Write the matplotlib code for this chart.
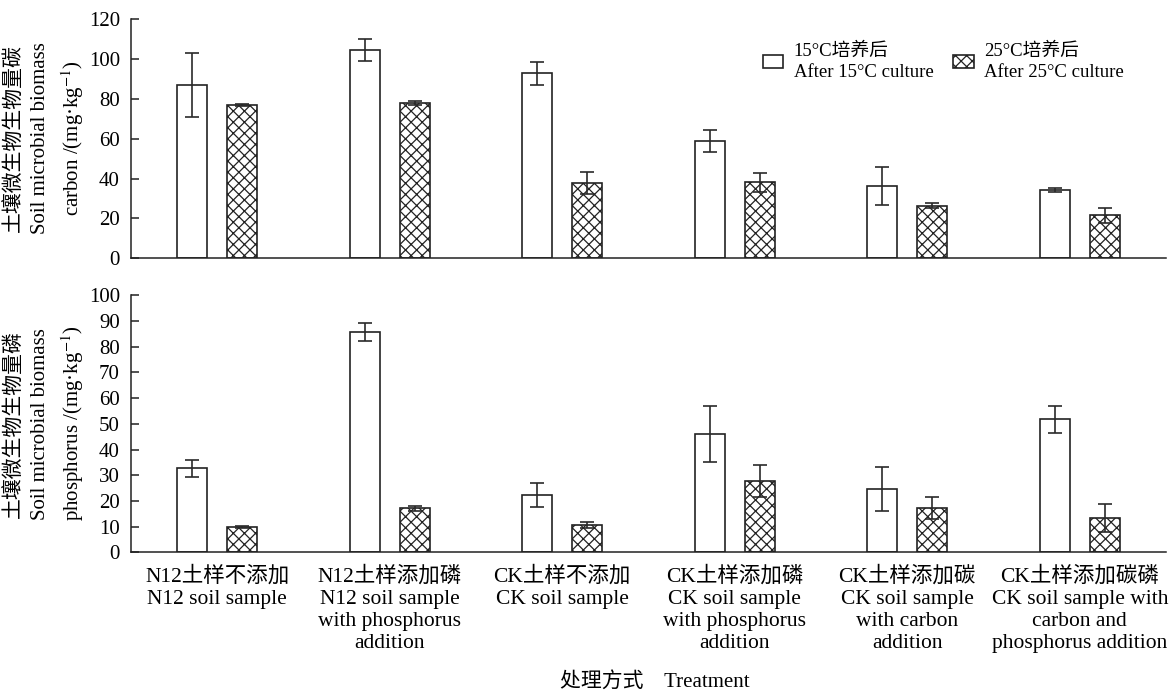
import matplotlib
matplotlib.use('Agg')
import matplotlib.pyplot as plt
import numpy as np

plt.rcParams['font.family'] = ['Liberation Serif', 'Noto Sans CJK SC']
plt.rcParams['mathtext.fontset'] = 'stix'
plt.rcParams['hatch.color'] = '#4a4a4a'
plt.rcParams['hatch.linewidth'] = 0.9

# treatments on the x axis
treatments = ['N12土样不添加\nN12 soil sample',
              'N12土样添加磷\nN12 soil sample\nwith phosphorus\naddition',
              'CK土样不添加\nCK soil sample',
              'CK土样添加磷\nCK soil sample\nwith phosphorus\naddition',
              'CK土样添加碳\nCK soil sample\nwith carbon\naddition',
              'CK土样添加碳磷\nCK soil sample with\ncarbon and\nphosphorus addition']

# microbial biomass carbon (mg/kg)
mbc_15 = [86.7, 104.2, 92.6, 58.8, 36.3, 34.3]
mbc_15_err = [16.0, 5.5, 5.6, 5.5, 9.4, 1.2]
mbc_25 = [76.6, 77.9, 37.9, 38.1, 26.4, 21.6]
mbc_25_err = [0.5, 1.0, 5.5, 4.8, 1.2, 3.8]

# microbial biomass phosphorus (mg/kg)
mbp_15 = [32.7, 85.5, 22.3, 46.1, 24.7, 51.8]
mbp_15_err = [3.2, 3.5, 4.8, 10.8, 8.4, 5.2]
mbp_25 = [10.0, 17.2, 10.7, 27.8, 17.4, 13.5]
mbp_25_err = [0.3, 1.0, 1.3, 6.2, 4.3, 5.5]

legend_labels = ['15°C培养后\nAfter 15°C culture', '25°C培养后\nAfter 25°C culture']

x = np.arange(len(treatments))
w = 0.174
off = 0.145
edge = '#222222'
fs = 15

fig = plt.figure(figsize=(11.74, 6.96), dpi=100)
ax1 = fig.add_axes([0.1116, 0.6286, 0.8816, 0.3448])
ax2 = fig.add_axes([0.1116, 0.2062, 0.8816, 0.3699])

err_kw = dict(ecolor='#2a2a2a', elinewidth=1.2, capsize=4.7, capthick=1.2)


def draw(ax, v15, e15, v25, e25, ymax, step):
    b1 = ax.bar(x - off, v15, w, yerr=e15, color='white', edgecolor=edge,
                linewidth=1.2, error_kw=err_kw, zorder=2)
    b2 = ax.bar(x + off, v25, w, yerr=e25, color='white', edgecolor=edge,
                linewidth=1.2, hatch='xxx', error_kw=err_kw, zorder=2)
    ax.set_xlim(-0.5, 5.5)
    ax.set_ylim(0, ymax)
    ax.set_yticks(np.arange(0, ymax + 1, step))
    ax.spines['top'].set_visible(False)
    ax.spines['right'].set_visible(False)
    for s in ['left', 'bottom']:
        ax.spines[s].set_linewidth(1.1)
        ax.spines[s].set_color(edge)
    ax.tick_params(axis='y', direction='in', length=6, width=1.1,
                   pad=8, labelsize=fs, color=edge)
    ax.tick_params(axis='x', length=0)
    return b1, b2


b1, b2 = draw(ax1, mbc_15, mbc_15_err, mbc_25, mbc_25_err, 120, 20)
draw(ax2, mbp_15, mbp_15_err, mbp_25, mbp_25_err, 100, 10)

ax1.set_xticks(x)
ax1.set_xticklabels([])
ax2.set_xticks(x)
ax2.set_xticklabels(treatments, fontsize=15.5, linespacing=1.22)
ax2.tick_params(axis='x', pad=10)

ax1.text(-0.083, 0.5, '土壤微生物生物量碳\nSoil microbial biomass\ncarbon /(mg·kg$^{-1}$)',
         transform=ax1.transAxes, rotation=90, ha='center', va='center',
         fontsize=fs, linespacing=1.45, multialignment='center')
ax2.text(-0.083, 0.5, '土壤微生物生物量磷\nSoil microbial biomass\nphosphorus /(mg·kg$^{-1}$)',
         transform=ax2.transAxes, rotation=90, ha='center', va='center',
         fontsize=fs, linespacing=1.45, multialignment='center')

ax1.legend([b1, b2], legend_labels, ncol=2, frameon=False, fontsize=13.5,
           loc='upper left', bbox_to_anchor=(0.603, 0.93),
           handlelength=1.1, handleheight=0.7, handletextpad=0.55,
           columnspacing=1.05, borderaxespad=0)
for t in ax1.get_legend().get_texts():
    t.set_linespacing(1.3)

fig.text(0.558, 0.02, '处理方式    Treatment', ha='center', va='center', fontsize=fs)

fig.savefig('out.png', dpi=100)
